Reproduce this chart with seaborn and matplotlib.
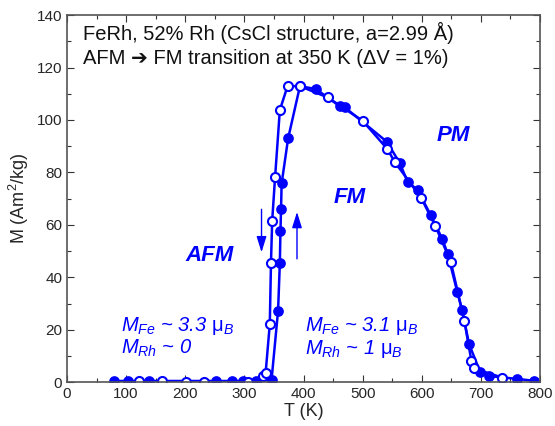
import matplotlib
matplotlib.use("Agg")
import matplotlib.pyplot as plt
import seaborn as sns
import pandas as pd
from matplotlib.ticker import MultipleLocator

sns.set_theme(style="ticks")
plt.rcParams["font.family"] = ["Liberation Sans", "DejaVu Sans"]
plt.rcParams["mathtext.fontset"] = "custom"
plt.rcParams["mathtext.rm"] = "Liberation Sans"
plt.rcParams["mathtext.it"] = "Liberation Sans:italic"
plt.rcParams["mathtext.bf"] = "Liberation Sans:bold"

# Heating branch (filled symbols)
heat_T = [80, 104, 139, 252, 279, 298, 320, 346, 357, 360, 361, 362, 363, 374,
          394, 421, 461, 470, 541, 563, 576, 593, 615, 635, 644, 660, 668, 680,
          699, 713, 761, 789]
heat_M = [0.5, 0.5, 0.5, 0.5, 0.5, 0.5, 0.5, 1.0, 27.3, 45.6, 57.5, 65.9, 75.8, 93.0,
          112.9, 111.8, 105.3, 104.8, 91.7, 83.5, 76.4, 73.3, 63.8, 54.5, 48.9, 34.5,
          27.7, 14.6, 3.8, 2.4, 1.3, 0.6]

# Cooling branch (open symbols)
cool_T = [122, 160, 201, 232, 306, 332, 336, 343, 345, 347, 352, 360, 373, 394,
          441, 500, 542, 554, 599, 623, 649, 672, 684, 688, 736]
cool_M = [0.4, 0.4, 0.3, 0.0, 0.0, 2.4, 3.7, 22.2, 45.6, 61.5, 78.4, 103.8, 112.9,
          112.9, 108.6, 99.7, 88.9, 84.1, 70.3, 59.6, 46.0, 23.5, 8.1, 5.3, 1.8]

x_ticks = [0, 100, 200, 300, 400, 500, 600, 700, 800]
y_ticks = [0, 20, 40, 60, 80, 100, 120, 140]

heat = pd.DataFrame({"T": heat_T, "M": heat_M})
cool = pd.DataFrame({"T": cool_T, "M": cool_M})

blue = "#0000ff"
fig = plt.figure(figsize=(5.55, 4.26), dpi=100)
ax = fig.add_axes([0.1207, 0.1026, 0.8523, 0.862])

sns.lineplot(data=heat, x="T", y="M", sort=False, estimator=None, ax=ax,
             color=blue, lw=1.8, marker="o", markersize=6.5,
             markerfacecolor=blue, markeredgecolor=blue, markeredgewidth=1.2)
sns.lineplot(data=cool, x="T", y="M", sort=False, estimator=None, ax=ax,
             color=blue, lw=1.8, marker="o", markersize=6.5,
             markerfacecolor="white", markeredgecolor=blue, markeredgewidth=1.5)

ax.set_xlim(0, 800)
ax.set_ylim(0, 140)
ax.set_xticks(x_ticks)
ax.set_yticks(y_ticks)
ax.xaxis.set_minor_locator(MultipleLocator(50))
ax.yaxis.set_minor_locator(MultipleLocator(10))
ax.tick_params(which="both", direction="in", top=True, right=True,
               labelsize=11, color="#333333", width=0.8)
ax.tick_params(which="major", length=5)
ax.tick_params(which="minor", length=3)
for s in ax.spines.values():
    s.set_color("#555555")
    s.set_linewidth(1.2)
ax.set_xlabel("T (K)", fontsize=13, labelpad=1)
ax.set_ylabel(r"M (Am$^2$/kg)", fontsize=13, labelpad=4)

ax.text(27, 133, "FeRh, 52% Rh (CsCl structure, a=2.99 Å)", fontsize=14.5,
        va="center", ha="left", color="#111111")
ax.text(27, 123.6, "AFM ➔ FM transition at 350 K (ΔV = 1%)", fontsize=14.5,
        va="center", ha="left", color="#111111")

for label, (tx, ty) in {"AFM": (241, 48.5), "FM": (478, 70.5), "PM": (653, 94)}.items():
    ax.text(tx, ty, label, fontsize=16, fontweight="bold", fontstyle="italic",
            color=blue, ha="center", va="center")

ax.text(92, 21.5, r"$M_{Fe}$ ~ 3.3 $\mathrm{\mu}_B$", fontsize=14.5, color=blue,
        fontstyle="italic", ha="left", va="center")
ax.text(92, 12.8, r"$M_{Rh}$ ~ 0", fontsize=14.5, color=blue,
        fontstyle="italic", ha="left", va="center")
ax.text(403, 21.5, r"$M_{Fe}$ ~ 3.1 $\mathrm{\mu}_B$", fontsize=14.5, color=blue,
        fontstyle="italic", ha="left", va="center")
ax.text(403, 12.8, r"$M_{Rh}$ ~ 1 $\mathrm{\mu}_B$", fontsize=14.5, color=blue,
        fontstyle="italic", ha="left", va="center")

# hysteresis direction arrows
ax.annotate("", xy=(329, 48.5), xytext=(329, 67),
            arrowprops=dict(arrowstyle="-|>,head_length=0.8,head_width=0.25",
                            color=blue, lw=1.0, mutation_scale=12))
ax.annotate("", xy=(389, 66), xytext=(389, 46),
            arrowprops=dict(arrowstyle="-|>,head_length=0.8,head_width=0.25",
                            color=blue, lw=1.0, mutation_scale=12))

fig.savefig("out.png", dpi=100)
